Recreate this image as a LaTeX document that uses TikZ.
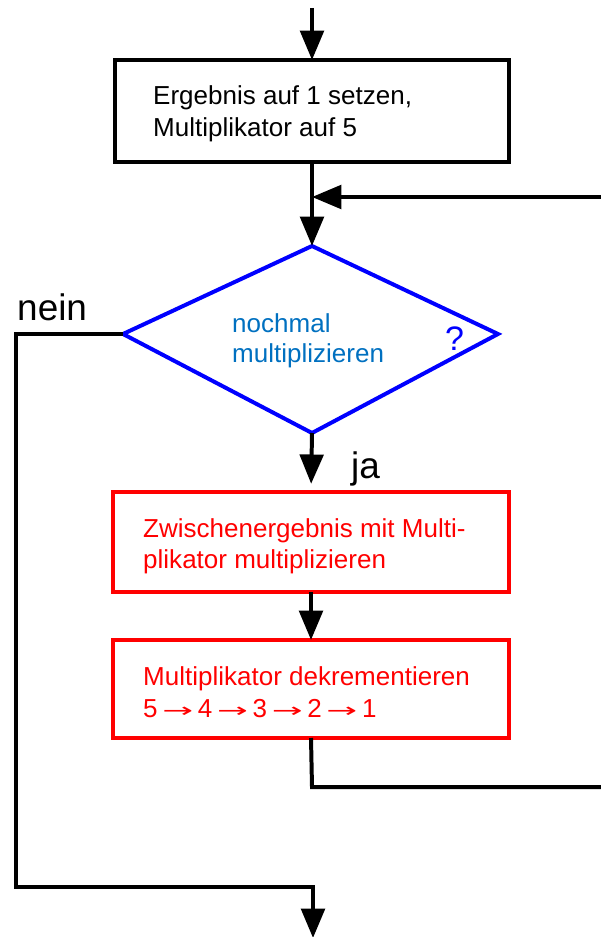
\documentclass[tikz,border=0pt]{standalone}
\usepackage{fontspec}
\usepackage{graphicx}
\setmainfont{Liberation Sans}
\newfontfamily\arrfont{DejaVu Sans}
\usetikzlibrary{arrows.meta}
\definecolor{txtblue}{RGB}{0,112,192}
\newcommand{\myarr}{ \makebox[22pt][c]{\arrfont\fontsize{17}{27}\selectfont\scalebox{1.85}[1]{→}} }
\tikzset{
  conn/.style={draw=black, line width=3.4pt},
  arr/.style={conn, -{Triangle[length=25pt,width=20pt]}},
  boxblack/.style={draw=black, line width=3.4pt, rectangle, inner sep=0pt, outer sep=0pt},
  boxred/.style={draw=red, line width=3.8pt, rectangle, inner sep=0pt, outer sep=0pt},
  txt/.style={anchor=base west, inner sep=0pt, font=\fontsize{22.2}{27}\selectfont},
  big/.style={anchor=base west, inner sep=0pt, font=\fontsize{31.5}{36}\selectfont},
}
\begin{document}
\begin{tikzpicture}[x=0.03cm, y=-0.03cm]
\useasboundingbox (0,0) rectangle (601,937);
\clip (0,0) rectangle (601,937);
% boxes
\node[boxblack, minimum width=11.82cm, minimum height=3.06cm] (b1) at (312,111) {};
\node[boxred, minimum width=11.88cm, minimum height=3.0cm] (b2) at (311,542) {};
\node[boxred, minimum width=11.88cm, minimum height=2.94cm] (b3) at (311,689) {};
% diamond
\coordinate (dt) at (312,246);
\coordinate (dr) at (498,334);
\coordinate (db) at (312,433);
\coordinate (dl) at (123,334);
\draw[blue, line width=3.4pt, line join=miter] (dt) -- (dr) -- (db) -- (dl) -- cycle;
% texts
\node[txt] (t1a) at (153,105) {Ergebnis auf 1 setzen,};
\node[txt] (t1b) at (153,137) {Multiplikator auf 5};
\node[txt, text=txtblue] (tda) at (232,332) {nochmal};
\node[txt, text=txtblue] (tdb) at (232,362) {multiplizieren};
\node[anchor=base west, inner sep=0pt, font=\fontsize{29}{34}\selectfont, text=blue] (tq) at (445,350) {?};
\node[txt, text=red] (t2a) at (143,537) {Zwischenergebnis mit Multi-};
\node[txt, text=red] (t2b) at (143,568) {plikator multiplizieren};
\node[txt, text=red] (t3a) at (143,685) {Multiplikator dekrementieren};
\node[txt, text=red] (t3b) at (143,717) {5\myarr4\myarr3\myarr2\myarr1};
\node[big] (nein) at (17,320) {nein};
\node[big] (ja) at (351,478) {ja};
% connector coordinates
\coordinate (start) at (312,8);
\coordinate (join) at (312,197);
\coordinate (lb) at (312,787);
\coordinate (rb) at (606,787);
\coordinate (rt) at (606,197);
\coordinate (nl) at (16,334);
\coordinate (nb) at (16,887);
\coordinate (nr) at (313,887);
\coordinate (stop) at (313,938);
% connectors
\draw[arr] (start) -- (b1.north);
\draw[arr] (b1.south) -- (dt);
\draw[arr] (b3.south) -- (lb) -- (rb) -- (rt) -- (join);
\draw[arr, shorten >=7pt] (db) -- (b2.north);
\draw[arr] (b2.south) -- (b3.north);
\draw[arr] (dl) -- (nl) -- (nb) -- (nr) -- (stop);
\end{tikzpicture}
\end{document}
